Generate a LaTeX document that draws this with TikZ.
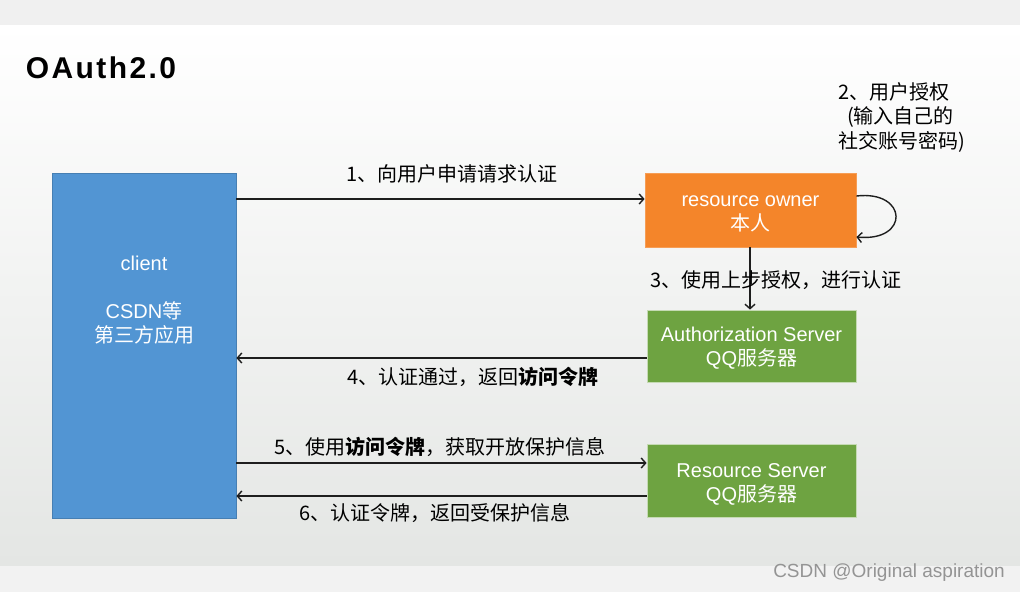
\documentclass[tikz,border=0pt]{standalone}
\usepackage{fontspec}
\setmainfont{Liberation Sans}
\newfontfamily\cjk{Noto Sans CJK SC}
\newfontfamily\titlefont[LetterSpace=8]{Liberation Sans}
\usetikzlibrary{arrows.meta}
\definecolor{clientblue}{HTML}{5295D3}
\definecolor{ownerorange}{HTML}{F4852A}
\definecolor{servergreen}{HTML}{6EA341}
\definecolor{arrowcol}{HTML}{1E1E1E}
\tikzset{
  boxtext/.style={text=white, align=center, font=\fontsize{20}{24}\selectfont, inner sep=0pt},
  ownerbox/.style={fill=ownerorange, draw=ownerorange!80!white, line width=0.8pt, inner sep=0pt},
  serverbox/.style={fill=servergreen, draw=servergreen!40!white, line width=0.8pt, inner sep=0pt},
  clientbox/.style={fill=clientblue, draw=clientblue!85!black, line width=0.8pt, inner sep=0pt},
  flow/.style={draw=arrowcol, line width=1.4pt, -{Straight Barb[length=4.5pt,width=10pt,line width=1.4pt]}},
  steplabel/.style={font=\cjk\fontsize{20}{24.5}\selectfont, text=black, inner sep=0pt}
}
\begin{document}
\begin{tikzpicture}[x=1pt,y=-1pt]
\useasboundingbox (0,0) rectangle (1020,592);
% background
\fill[black!6] (0,0) rectangle (1020,25);
\shade[top color=white, bottom color={rgb,255:red,228;green,230;blue,228}] (0,25) rectangle (1020,566);
\fill[black!5] (0,566) rectangle (1020,592);

% title
\node[font=\titlefont\bfseries\fontsize{30}{36}\selectfont, inner sep=0pt] (title) at (101,68) {OAuth2.0};

% boxes
\node[clientbox, minimum width=184pt, minimum height=345pt] (client) at (144,345.5) {};
\node[boxtext] (clienttxt) at (144,300) {client\\[24pt]CSDN{\cjk 等}\\{\cjk 第三方应用}};

\node[ownerbox, minimum width=211pt, minimum height=74pt] (owner) at (750.5,210) {};
\node[boxtext] (ownertxt) at (750.5,214) {resource owner\\{\cjk 本人}};
\node[serverbox, minimum width=209pt, minimum height=72pt] (auth) at (751.5,346) {};
\node[boxtext] (authtxt) at (751.5,348) {Authorization Server\\QQ{\cjk 服务器}};
\node[serverbox, minimum width=209pt, minimum height=73pt] (rs) at (751.5,480.5) {};
\node[boxtext] (rstxt) at (751.5,484.5) {Resource Server\\QQ{\cjk 服务器}};

% arrows
\draw[flow] (client.east |- 0,199) -- (owner.west |- 0,199);
\draw[flow] (owner.east |- 0,196) .. controls (908,190) and (910,242) .. (owner.east |- 0,237);
\draw[flow] (owner.south -| 750,0) -- (auth.north -| 750,0);
\draw[flow] (auth.west |- 0,358) -- (client.east |- 0,358);
\draw[flow] (client.east |- 0,463) -- (rs.west |- 0,463);
\draw[flow] (rs.west |- 0,496) -- (client.east |- 0,496);

% labels
\node[steplabel] (l1) at (452,174) {1、向用户申请请求认证};
\node[steplabel, align=left, anchor=north west] (l2) at (838,82) {2、用户授权\\\hspace*{9pt}(输入自己的\\社交账号密码)};
\node[steplabel] (l3) at (776,280) {3、使用上步授权，进行认证};
\node[steplabel] (l4) at (473,377) {4、认证通过，返回\textbf{访问令牌}};
\node[steplabel] (l5) at (440,447) {5、使用\textbf{访问令牌}，获取开放保护信息};
\node[steplabel] (l6) at (435,513) {6、认证令牌，返回受保护信息};

% watermark
\node[font=\fontsize{19}{22}\selectfont, text=black!42, anchor=east, inner sep=0pt] (wm) at (1005,573) {CSDN @Original aspiration};
\end{tikzpicture}
\end{document}
